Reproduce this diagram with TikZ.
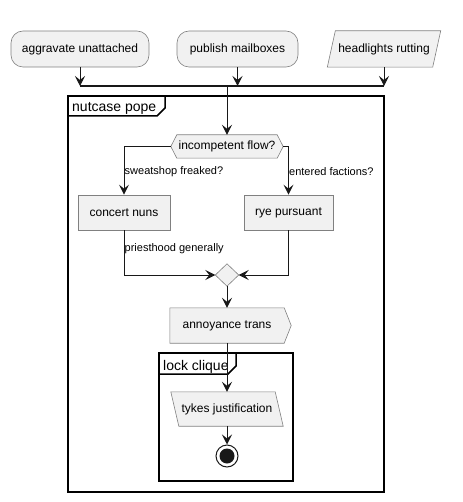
\documentclass[tikz,border=0pt]{standalone}
\usepackage{fontspec}
\setmainfont{Liberation Sans}
\usetikzlibrary{arrows.meta,calc,backgrounds}
\definecolor{actfill}{HTML}{F1F1F1}
\definecolor{actline}{HTML}{181818}
\definecolor{shpline}{HTML}{808080}
\begin{document}
\begin{tikzpicture}[x=1pt,y=-1pt,
  base/.style={draw=shpline,fill=actfill,line width=0.6pt,font=\fontsize{12}{14}\selectfont,inner sep=0pt,align=center},
  ract/.style={base,rounded corners=12pt,minimum height=36pt},
  bact/.style={base,minimum height=35pt},
  plain/.style={inner sep=0pt,font=\fontsize{12}{14}\selectfont},
  shp/.style={draw=shpline,fill=actfill,line width=0.6pt},
  lbl/.style={inner sep=0pt,anchor=west,font=\fontsize{11}{13}\selectfont},
  flow/.style={draw=actline,line width=1pt,-{Stealth[length=10pt,width=10pt,inset=4pt]}},
  frm/.style={draw=black,line width=1.5pt},
  ftitle/.style={inner sep=0pt,anchor=base west,font=\fontsize{14}{16}\selectfont}
]
\useasboundingbox (0,0) rectangle (462,502);

% top row
\node[ract,minimum width=138pt] (a1) at (80,49) {aggravate unattached};
\node[ract,minimum width=121pt] (a2) at (237.5,49) {publish mailboxes};
\node[plain,minimum width=105pt,minimum height=36pt] (a3) at (384,49) {headlights rutting};
\begin{scope}[on background layer]
\draw[shp] ($(a3.north west)+(4,0)$) -- ($(a3.north east)+(4,0)$) -- ($(a3.south east)+(-4,0)$) -- ($(a3.south west)+(-4,0)$) -- cycle;
\end{scope}

% sync bar
\coordinate (b1) at (80,86);
\coordinate (b2) at (237.5,86);
\coordinate (b3) at (384,86);
\coordinate (b0) at (227,86);
\draw[draw=actline,line width=1.5pt] (b1) -- (b3);
\draw[flow] (a1.south) -- (b1);
\draw[flow] (a2.south) -- (b2);
\draw[flow] (a3.south) -- (b3);

% main frame
\draw[frm] (68,96) rectangle (384,492);
\draw[frm] (68,116) -- (157,116) -- (165,108) -- (165,96);
\node[ftitle] (f1) at (72,112) {nutcase pope};

% decision
\node[plain,minimum width=112pt,minimum height=23pt] (d1) at (227,146.5) {incompetent flow?};
\begin{scope}[on background layer]
\draw[shp] (d1.west) -- ($(d1.north west)+(6,0)$) -- ($(d1.north east)+(-6,0)$) -- (d1.east) -- ($(d1.south east)+(-6,0)$) -- ($(d1.south west)+(6,0)$) -- cycle;
\end{scope}
\draw[flow] (b0) -- (d1.north);

\node[bact,minimum width=92pt] (n1) at (124,212.5) {concert nuns};
\node[bact,minimum width=89pt] (n2) at (288.5,212.5) {rye pursuant};
\draw[flow] (d1.west) -| (n1.north);
\draw[flow] (d1.east) -| (n2.north);
\node[lbl] (l1) at (124.5,172) {sweatshop freaked?};
\node[lbl] (l2) at (289,172) {entered factions?};

% merge
\node[plain,minimum width=23pt,minimum height=22pt] (m1) at (227,275) {};
\begin{scope}[on background layer]
\draw[shp] (m1.north) -- (m1.east) -- (m1.south) -- (m1.west) -- cycle;
\end{scope}
\draw[flow] (n1.south) |- (m1.west);
\draw[flow] (n2.south) |- (m1.east);
\node[lbl] (l3) at (124.5,249) {priesthood generally};

% annoyance trans
\node[plain,minimum width=114pt,minimum height=35pt] (p1) at (227,325.5) {annoyance trans};
\begin{scope}[on background layer]
\draw[shp] (p1.north west) -- (p1.north east) -- ($(p1.east)+(7,0)$) -- (p1.south east) -- (p1.south west) -- cycle;
\end{scope}
\draw[flow] (m1.south) -- (p1.north);

% lock clique frame
\draw[frm] (159,353) rectangle (293,481);
\draw[frm] (159,374) -- (228,374) -- (236,366) -- (236,353);
\node[ftitle] (f2) at (163,370) {lock clique};

% tykes
\node[plain,minimum width=104pt,minimum height=34pt] (t2) at (227,409) {tykes justification};
\begin{scope}[on background layer]
\draw[shp] ($(t2.north west)+(-4,0)$) -- ($(t2.north east)+(-4,0)$) -- ($(t2.south east)+(4,0)$) -- ($(t2.south west)+(4,0)$) -- cycle;
\end{scope}
\draw[flow] (p1.south) -- (t2.north);

% stop
\node[circle,draw=actline,line width=1pt,fill=white,minimum size=22pt,inner sep=0pt] (s1) at (227,456) {};
\fill[actline] (s1.center) circle (7.5);
\draw[flow] (t2.south) -- (s1.north);
\end{tikzpicture}
\end{document}
